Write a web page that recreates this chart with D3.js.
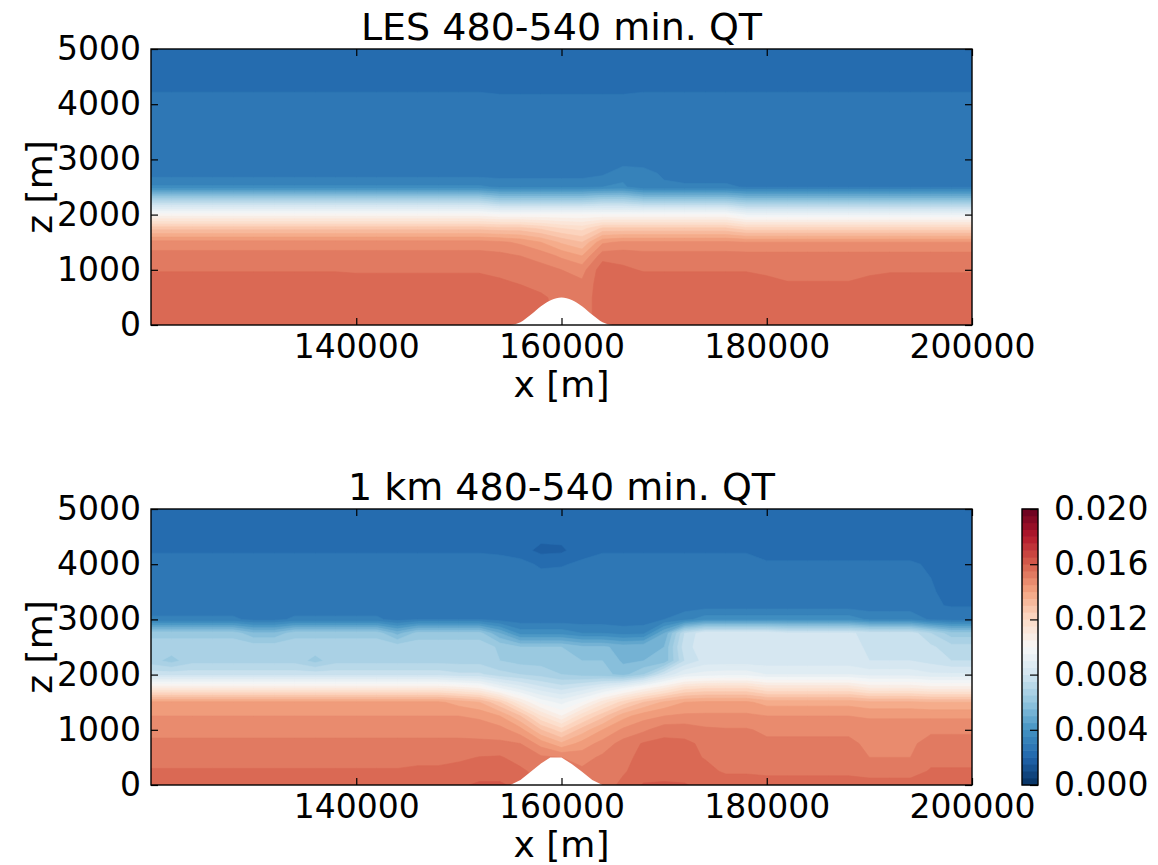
<!DOCTYPE html>
<html><head><meta charset="utf-8">
<script src="https://cdn.jsdelivr.net/npm/d3@7/dist/d3.min.js"></script>
<style>
html,body{margin:0;padding:0;background:#fff;}
svg text{font-family:"DejaVu Sans",sans-serif;fill:#000;}
</style></head>
<body>
<svg id="chart" width="1158" height="865"></svg>
<script>
// ---------------- DATA ----------------
// grid columns (x, m) and rows (z, m; listed top-down)
const xCols = [120000,122000,124000,126000,128000,130000,132000,134000,136000,138000,
               140000,142000,144000,146000,148000,150000,152000,154000,156000,158000,
               160000,162000,164000,166000,168000,170000,172000,174000,176000,178000,
               180000,182000,184000,186000,188000,190000,192000,194000,196000,198000,200000];
const zRows = [5000,4750,4500,4250,4000,3750,3500,3250,3000,2750,2500,2250,2000,1750,1500,1250,1000,750,500,250,0];

// QT values in g/kg (colorbar labels are kg/kg), one row per z level (top-down), one value per x column
const lesQT = [
[2.2,2.2,2.2,2.2,2.2,2.2,2.2,2.2,2.2,2.2, 2.2,2.2,2.2,2.2,2.2,2.2,2.2,2.2,2.2,2.2, 2.2,2.2,2.2,2.2,2.2,2.2,2.2,2.2,2.2,2.2, 2.2,2.2,2.2,2.2,2.2,2.2,2.2,2.2,2.2,2.2, 2.2],
[2.2,2.2,2.2,2.2,2.2,2.2,2.2,2.2,2.2,2.2, 2.2,2.2,2.2,2.2,2.2,2.2,2.2,2.2,2.2,2.2, 2.2,2.2,2.2,2.2,2.2,2.2,2.2,2.2,2.2,2.2, 2.2,2.2,2.2,2.2,2.2,2.2,2.2,2.2,2.2,2.2, 2.2],
[2.2,2.2,2.2,2.2,2.2,2.2,2.2,2.2,2.2,2.2, 2.2,2.2,2.2,2.2,2.2,2.2,2.2,2.2,2.2,2.2, 2.2,2.2,2.2,2.2,2.2,2.2,2.2,2.2,2.2,2.2, 2.2,2.2,2.2,2.2,2.2,2.2,2.2,2.2,2.2,2.2, 2.2],
[2.47,2.47,2.47,2.47,2.47,2.47,2.47,2.47,2.47,2.47, 2.47,2.47,2.47,2.47,2.47,2.47,2.47,2.42,2.42,2.42, 2.42,2.42,2.42,2.42,2.47,2.47,2.47,2.47,2.47,2.47, 2.47,2.47,2.47,2.47,2.47,2.47,2.47,2.47,2.47,2.47, 2.47],
[2.7,2.7,2.7,2.7,2.7,2.7,2.7,2.7,2.7,2.7, 2.7,2.7,2.7,2.7,2.7,2.7,2.7,2.7,2.7,2.7, 2.7,2.7,2.7,2.7,2.7,2.7,2.7,2.7,2.7,2.7, 2.7,2.7,2.7,2.7,2.7,2.7,2.7,2.7,2.7,2.7, 2.7],
[2.7,2.7,2.7,2.7,2.7,2.7,2.7,2.7,2.7,2.7, 2.7,2.7,2.7,2.7,2.7,2.7,2.7,2.7,2.7,2.7, 2.7,2.7,2.7,2.7,2.7,2.7,2.7,2.7,2.7,2.7, 2.7,2.7,2.7,2.7,2.7,2.7,2.7,2.7,2.7,2.7, 2.7],
[2.7,2.7,2.7,2.7,2.7,2.7,2.7,2.7,2.7,2.7, 2.7,2.7,2.7,2.7,2.7,2.7,2.7,2.7,2.7,2.7, 2.7,2.7,2.7,2.7,2.7,2.7,2.7,2.7,2.7,2.7, 2.7,2.7,2.7,2.7,2.7,2.7,2.7,2.7,2.7,2.7, 2.7],
[2.7,2.7,2.7,2.7,2.7,2.7,2.7,2.7,2.7,2.7, 2.7,2.7,2.7,2.7,2.7,2.7,2.7,2.7,2.7,2.7, 2.7,2.7,2.7,2.7,2.7,2.7,2.7,2.7,2.7,2.7, 2.7,2.7,2.7,2.7,2.7,2.7,2.7,2.7,2.7,2.7, 2.7],
[2.7,2.7,2.7,2.7,2.7,2.7,2.7,2.7,2.7,2.7, 2.7,2.7,2.7,2.7,2.7,2.7,2.7,2.7,2.7,2.7, 2.7,2.7,2.7,2.7,2.7,2.7,2.7,2.7,2.7,2.7, 2.7,2.7,2.7,2.7,2.7,2.7,2.7,2.7,2.7,2.7, 2.7],
[2.75,2.75,2.75,2.75,2.75,2.75,2.75,2.75,2.75,2.75, 2.75,2.75,2.75,2.75,2.75,2.75,2.75,2.75,2.75,2.75, 2.75,2.75,2.9,3.3,3.2,2.9,2.72,2.72,2.72,2.72, 2.72,2.72,2.72,2.72,2.72,2.72,2.72,2.72,2.72,2.72, 2.72],
[3.6,3.6,3.6,3.6,3.6,3.6,3.6,3.6,3.6,3.6, 3.6,3.6,3.6,3.6,3.6,3.6,3.6,3.4,3.4,3.4, 3.4,3.4,3.5,3.6,3.1,3.1,3.1,3.1,3.1,2.95, 2.95,2.95,2.95,2.95,2.95,2.95,2.95,2.95,2.95,2.95, 2.95],
[7.0,7.0,7.0,7.0,7.0,7.0,7.0,7.0,7.0,7.0, 7.0,7.0,7.0,7.0,7.0,7.0,7.0,6.5,6.5,6.5, 6.5,6.5,6.8,6.8,6.4,6.4,6.4,6.4,6.4,6.0, 6.0,6.0,6.0,6.0,6.0,6.0,6.0,6.0,6.0,6.0, 6.0],
[10.2,10.2,10.2,10.2,10.2,10.2,10.2,10.2,10.2,10.2, 10.2,10.2,10.2,10.2,10.2,10.2,10.2,10.0,10.0,10.0, 10.0,10.0,10.0,10.0,10.0,10.0,10.0,10.0,10.0,9.4, 9.4,9.4,9.4,9.4,9.4,9.4,9.4,9.4,9.4,9.4, 9.4],
[12.8,12.8,12.8,12.8,12.8,12.8,12.8,12.8,12.8,12.8, 12.8,12.8,12.8,12.8,12.8,12.8,12.8,12.7,12.7,12.4, 12.0,11.8,12.6,12.6,12.6,12.6,12.6,12.6,12.6,12.2, 12.2,12.2,12.2,12.2,12.2,12.2,12.2,12.2,12.2,12.2, 12.2],
[14.7,14.7,14.7,14.7,14.7,14.7,14.7,14.7,14.7,14.7, 14.7,14.7,14.7,14.7,14.7,14.7,14.7,14.6,14.4,14.0, 13.4,13.0,14.4,14.6,14.6,14.6,14.6,14.6,14.6,14.5, 14.5,14.5,14.5,14.5,14.5,14.5,14.5,14.5,14.5,14.5, 14.5],
[15.2,15.2,15.2,15.2,15.2,15.2,15.2,15.2,15.2,15.2, 15.2,15.2,15.2,15.2,15.2,15.2,15.2,15.15,15.0,14.8, 14.4,14.0,15.3,15.3,15.2,15.2,15.2,15.2,15.2,15.2, 15.2,15.2,15.2,15.2,15.2,15.2,15.2,15.2,15.2,15.2, 15.2],
[15.45,15.45,15.45,15.45,15.45,15.45,15.45,15.45,15.45,15.45, 15.4,15.4,15.4,15.4,15.4,15.4,15.4,15.35,15.25,15.2, 15.0,14.8,15.8,15.6,15.45,15.45,15.45,15.45,15.45,15.45, 15.35,15.25,15.25,15.25,15.25,15.35,15.42,15.42,15.42,15.42, 15.42],
[15.8,15.8,15.8,15.8,15.8,15.8,15.8,15.8,15.8,15.8, 15.8,15.8,15.8,15.8,15.8,15.8,15.8,15.6,15.48,15.3, 15.2,15.1,15.8,15.8,15.8,15.8,15.8,15.8,15.8,15.8, 15.7,15.55,15.55,15.55,15.55,15.7,15.8,15.8,15.8,15.8, 15.8],
[15.8,15.8,15.8,15.8,15.8,15.8,15.8,15.8,15.8,15.8, 15.8,15.8,15.8,15.8,15.8,15.8,15.8,15.8,15.75,15.6, 15.3,15.2,15.8,15.8,15.8,15.8,15.8,15.8,15.8,15.8, 15.8,15.8,15.8,15.8,15.8,15.8,15.8,15.8,15.8,15.8, 15.8],
[15.8,15.8,15.8,15.8,15.8,15.8,15.8,15.8,15.8,15.8, 15.8,15.8,15.8,15.8,15.8,15.8,15.8,15.8,15.8,15.7, 15.3,15.2,15.8,15.8,15.8,15.8,15.8,15.8,15.8,15.8, 15.8,15.8,15.8,15.8,15.8,15.8,15.8,15.8,15.8,15.8, 15.8],
[15.8,15.8,15.8,15.8,15.8,15.8,15.8,15.8,15.8,15.8, 15.8,15.8,15.8,15.8,15.8,15.8,15.8,15.8,15.8,15.7, 15.3,15.2,15.8,15.8,15.8,15.8,15.8,15.8,15.8,15.8, 15.8,15.8,15.8,15.8,15.8,15.8,15.8,15.8,15.8,15.8, 15.8]
];

const kmQT = [
[2.2,2.2,2.2,2.2,2.2,2.2,2.2,2.2,2.2,2.2, 2.2,2.2,2.2,2.2,2.2,2.2,2.2,2.2,2.2,2.2, 2.2,2.2,2.2,2.2,2.2,2.2,2.2,2.2,2.2,2.2, 2.2,2.2,2.2,2.2,2.2,2.2,2.2,2.2,2.2,2.2, 2.2],
[2.2,2.2,2.2,2.2,2.2,2.2,2.2,2.2,2.2,2.2, 2.2,2.2,2.2,2.2,2.2,2.2,2.2,2.2,2.2,2.2, 2.2,2.2,2.2,2.2,2.2,2.2,2.2,2.2,2.2,2.2, 2.2,2.2,2.2,2.2,2.2,2.2,2.2,2.2,2.2,2.2, 2.2],
[2.2,2.2,2.2,2.2,2.2,2.2,2.2,2.2,2.2,2.2, 2.2,2.2,2.2,2.2,2.2,2.2,2.2,2.2,2.2,2.15, 2.15,2.2,2.2,2.2,2.2,2.2,2.2,2.2,2.2,2.2, 2.2,2.2,2.2,2.2,2.2,2.2,2.2,2.2,2.2,2.2, 2.2],
[2.45,2.45,2.45,2.45,2.45,2.45,2.45,2.45,2.45,2.45, 2.45,2.45,2.45,2.45,2.45,2.45,2.45,2.4,2.2,1.85, 1.9,2.3,2.45,2.45,2.45,2.45,2.45,2.45,2.45,2.45, 2.35,2.35,2.35,2.35,2.35,2.35,2.35,2.35,2.3,2.3, 2.3],
[2.7,2.7,2.7,2.7,2.7,2.7,2.7,2.7,2.7,2.7, 2.7,2.7,2.7,2.7,2.7,2.7,2.7,2.7,2.7,2.4, 2.45,2.6,2.7,2.7,2.7,2.7,2.7,2.7,2.7,2.7, 2.55,2.55,2.55,2.55,2.55,2.55,2.55,2.55,2.45,2.4, 2.4],
[2.7,2.7,2.7,2.7,2.7,2.7,2.7,2.7,2.7,2.7, 2.7,2.7,2.7,2.7,2.7,2.7,2.7,2.7,2.7,2.7, 2.7,2.7,2.7,2.7,2.7,2.7,2.7,2.7,2.7,2.7, 2.7,2.7,2.7,2.7,2.7,2.7,2.7,2.7,2.5,2.42, 2.42],
[2.7,2.7,2.7,2.7,2.7,2.7,2.7,2.7,2.7,2.7, 2.7,2.7,2.7,2.7,2.7,2.7,2.7,2.7,2.7,2.7, 2.7,2.7,2.7,2.7,2.7,2.7,2.7,2.7,2.7,2.7, 2.7,2.7,2.7,2.7,2.7,2.7,2.7,2.7,2.52,2.44, 2.44],
[2.7,2.7,2.7,2.7,2.7,2.7,2.7,2.7,2.7,2.7, 2.7,2.7,2.7,2.7,2.7,2.7,2.7,2.7,2.7,2.7, 2.7,2.7,2.7,2.7,2.7,2.7,2.75,2.75,2.75,2.75, 2.75,2.75,2.75,2.75,2.75,2.7,2.7,2.7,2.55,2.47, 2.47],
[3.1,3.1,3.1,3.1,3.1,2.85,2.85,3.1,3.1,3.1, 3.1,3.1,2.8,3.0,3.0,3.0,3.0,2.8,2.7,2.7, 2.7,2.7,2.7,2.7,2.7,3.0,3.3,3.8,3.8,3.8, 3.8,3.8,3.8,3.8,3.8,3.4,3.4,3.4,2.9,2.8, 2.8],
[6.3,6.3,6.3,6.3,6.3,5.6,5.6,6.3,6.3,6.3, 6.3,6.3,5.3,6.2,6.2,6.2,6.2,5.0,3.8,3.8, 3.8,3.5,3.5,3.3,3.4,5.0,7.5,8.4,8.4,8.4, 8.4,8.1,8.1,8.1,8.1,7.8,7.8,7.8,7.0,6.2, 6.2],
[6.8,6.8,6.8,6.8,6.8,6.8,6.8,6.8,6.8,6.8, 6.8,6.8,6.8,6.8,6.8,6.8,6.8,6.4,6.0,6.0, 6.0,5.6,5.6,5.3,5.4,5.5,7.8,8.3,8.3,8.3, 8.3,8.2,8.2,8.2,8.2,7.9,7.9,7.9,7.6,7.2, 7.2],
[6.7,6.3,6.8,6.8,6.8,6.8,6.8,6.8,6.3,6.8, 6.8,6.8,6.8,6.8,6.8,6.8,6.8,6.5,6.3,6.3, 6.3,6.0,6.0,5.4,5.5,5.6,7.5,8.2,8.2,8.2, 8.2,8.2,8.2,8.2,8.2,8.0,8.0,8.0,7.8,7.5, 7.5],
[7.8,7.8,7.8,7.8,7.8,7.8,7.8,7.8,7.8,7.8, 7.8,7.8,7.8,7.8,7.8,7.6,7.6,7.2,7.0,6.8, 6.5,6.3,6.2,5.8,6.5,8.0,9.0,9.2,9.3,9.3, 9.0,9.0,9.0,9.0,9.0,8.8,8.8,8.8,8.6,8.6, 8.6],
[11.0,11.0,11.0,11.0,11.0,11.0,11.0,11.0,11.0,11.0, 11.0,11.0,11.0,11.0,11.0,10.8,10.5,9.5,8.8,8.2, 7.8,8.2,8.8,9.5,10.3,11.0,11.8,12.0,12.0,12.0, 11.5,11.5,11.5,11.5,11.5,11.0,11.0,11.0,10.8,10.8, 10.8],
[14.1,14.1,14.1,14.1,14.1,14.1,14.1,14.1,14.1,14.1, 14.1,14.1,14.1,14.1,14.1,13.8,13.5,12.5,11.0,9.8, 9.3,10.0,11.2,12.2,13.0,13.6,14.0,14.1,14.1,14.1, 13.8,13.8,13.8,13.8,13.8,13.6,13.6,13.6,13.5,13.5, 13.5],
[14.5,14.5,14.5,14.5,14.5,14.5,14.5,14.5,14.5,14.5, 14.5,14.5,14.5,14.5,14.5,14.5,14.4,14.0,13.0,11.5, 10.5,11.8,12.8,13.8,14.3,14.5,14.6,14.6,14.6,14.6, 14.5,14.5,14.5,14.5,14.5,14.45,14.45,14.45,14.4,14.4, 14.4],
[14.85,14.85,14.85,14.85,14.85,14.85,14.85,14.85,14.85,14.85, 14.85,14.85,14.85,14.85,14.85,14.85,14.8,14.7,14.2,13.0, 12.2,13.2,14.0,14.6,14.9,15.3,15.3,15.1,15.05,15.05, 14.9,14.9,14.9,14.9,14.9,14.7,14.7,14.7,14.9,14.9, 14.9],
[15.1,15.1,15.1,15.1,15.1,15.1,15.1,15.1,15.1,15.1, 15.1,15.1,15.1,15.1,15.1,15.1,15.1,15.1,15.0,14.3, 13.6,14.2,14.7,15.2,15.55,15.65,15.6,15.4,15.2,15.2, 15.1,15.1,15.1,15.1,15.1,14.9,14.9,14.9,15.2,15.2, 15.2],
[15.3,15.3,15.3,15.3,15.3,15.3,15.3,15.3,15.3,15.3, 15.3,15.3,15.3,15.35,15.35,15.4,15.52,15.55,15.3,15.1, 15.0,14.8,15.1,15.4,15.6,15.7,15.6,15.48,15.3,15.3, 15.3,15.3,15.3,15.3,15.3,15.0,15.0,15.0,15.35,15.35, 15.35],
[15.55,15.55,15.55,15.55,15.55,15.55,15.55,15.55,15.55,15.55, 15.55,15.55,15.55,15.6,15.6,15.7,15.7,15.7,15.6,15.3, 15.2,15.1,15.2,15.45,15.7,15.7,15.7,15.6,15.45,15.45, 15.4,15.4,15.4,15.4,15.4,15.3,15.3,15.3,15.55,15.55, 15.55],
[15.8,15.8,15.8,15.8,15.8,15.8,15.8,15.8,15.8,15.8, 15.8,15.8,15.8,15.8,15.8,15.9,16.1,16.1,15.8,15.52, 15.52,15.52,15.3,15.6,16.05,16.1,16.05,15.8,15.7,15.7, 15.7,15.7,15.7,15.7,15.7,15.7,15.7,15.7,15.8,15.8, 15.8]
];

// terrain (white hill) profiles
const lesHillX = [155000,155500,156000,157000,158000,159000,160000,161000,162000,163000,164000,164500,165000];
const lesHillZ = [0,15,50,185,340,455,500,455,340,185,50,15,0];
const kmHillX  = [155000,156000,157000,158000,158900,160000,161000,162000,163000,164000];
const kmHillZ  = [0,90,240,390,500,500,380,240,90,0];

const titles = ["LES 480-540 min. QT", "1 km 480-540 min. QT"];
const xTicks = [140000,160000,180000,200000];
const zTicks = [0,1000,2000,3000,4000,5000];
const cbTicks = [0,4,8,12,16,20];               // g/kg
const cbTickLabels = ["0.000","0.004","0.008","0.012","0.016","0.020"];
const rdbuStops = [0,2,4,6,8,10,12,14,16,18,20]; // g/kg
const rdbuColors = ["#053061","#2166ac","#4393c3","#92c5de","#d1e5f0","#f7f7f7","#fddbc7","#f4a582","#d6604d","#b2182b","#67001f"];

// ---------------- DRAWING ----------------
[lesQT, kmQT].forEach((d,k)=>d.forEach((r,i)=>{ if(r.length!==xCols.length) console.error("row length",k,i,r.length); }));

const svg = d3.select("#chart");
const plotLeft = 151, plotRight = 972;
const levelStep = 0.5;
const levels = d3.range(0, 20, levelStep);
const cmap = d3.scaleLinear().domain(rdbuStops).range(rdbuColors).interpolate(d3.interpolateRgb);
const bandColor = v => cmap(v + levelStep/2);

const panels = [
  {title: titles[0], data: lesQT, hx: lesHillX, hz: lesHillZ, curve: d3.curveMonotoneX, top: 49, bottom: 325},
  {title: titles[1], data: kmQT,  hx: kmHillX,  hz: kmHillZ,  curve: d3.curveLinear,    top: 509, bottom: 785}
];

const tickFont = 33, labelFont = 36, titleFont = 38;

panels.forEach((p, pi) => {
  const xs = d3.scaleLinear().domain([120000, 200000]).range([plotLeft, plotRight]);
  const ys = d3.scaleLinear().domain([0, 5000]).range([p.bottom, p.top]);
  const g = svg.append("g");

  const clipId = "clip" + pi;
  svg.append("clipPath").attr("id", clipId).append("rect")
     .attr("x", plotLeft).attr("y", p.top).attr("width", plotRight - plotLeft).attr("height", p.bottom - p.top);

  const nx = xCols.length, nz = zRows.length;
  const zAsc = zRows.slice().reverse();
  const grid = p.data.slice().reverse().flat();
  const dx = xCols[1] - xCols[0], dz = zAsc[1] - zAsc[0];
  const proj = d3.geoTransform({
    point(x, y) { this.stream.point(xs(xCols[0] + (x - 0.5) * dx), ys(zAsc[0] + (y - 0.5) * dz)); }
  });
  const path = d3.geoPath(proj);
  const contours = d3.contours().size([nx, nz]).thresholds(levels)(grid);

  const field = g.append("g").attr("clip-path", `url(#${clipId})`);
  field.selectAll("path.band").data(contours).join("path")
    .attr("class", "band")
    .attr("d", path)
    .attr("fill", d => bandColor(d.value))
    .attr("stroke", d => bandColor(d.value))
    .attr("stroke-width", 0.6);

  // terrain
  const hill = p.hx.map((x, i) => [x, p.hz[i]]);
  field.append("path").datum(hill)
    .attr("d", d3.area().x(d => xs(d[0])).y0(ys(0) + 2).y1(d => ys(d[1])).curve(p.curve))
    .attr("fill", "#fff");

  // axes (inward ticks on all sides)
  const fmt = d3.format("d");
  const ax = (gen, tx, ty) => {
    const a = g.append("g").attr("transform", `translate(${tx},${ty})`).call(gen);
    a.select(".domain").remove();
    a.selectAll(".tick line").attr("stroke", "#000").attr("stroke-width", 1.2);
    a.selectAll(".tick text").attr("font-size", tickFont).attr("font-family", "DejaVu Sans").attr("fill", "#000");
    return a;
  };
  ax(d3.axisBottom(xs).tickValues(xTicks).tickFormat(fmt).tickSize(-7).tickPadding(10), 0, p.bottom);
  ax(d3.axisTop(xs).tickValues(xTicks).tickFormat("").tickSize(-7), 0, p.top);
  ax(d3.axisLeft(ys).tickValues(zTicks).tickFormat(fmt).tickSize(-7).tickPadding(10), plotLeft, 0);
  ax(d3.axisRight(ys).tickValues(zTicks).tickFormat("").tickSize(-7), plotRight, 0);

  g.append("rect").attr("x", plotLeft).attr("y", p.top)
    .attr("width", plotRight - plotLeft).attr("height", p.bottom - p.top)
    .attr("fill", "none").attr("stroke", "#000").attr("stroke-width", 1.4);

  // labels
  g.append("text").attr("x", (plotLeft + plotRight) / 2).attr("y", p.top - 9)
    .attr("text-anchor", "middle").attr("font-size", titleFont).text(p.title);
  g.append("text").attr("x", (plotLeft + plotRight) / 2).attr("y", p.bottom + 72)
    .attr("text-anchor", "middle").attr("font-size", labelFont).text("x [m]");
  g.append("text")
    .attr("transform", `translate(52,${(p.top + p.bottom) / 2}) rotate(-90)`)
    .attr("text-anchor", "middle").attr("font-size", labelFont).text("z [m]");
});

// colorbar
const cb = svg.append("g");
const cbX = 1022, cbW = 16, cbTop = 509, cbBottom = 785;
const cbScale = d3.scaleLinear().domain([0, 20]).range([cbBottom, cbTop]);
cb.selectAll("rect.cbband").data(levels).join("rect")
  .attr("class", "cbband")
  .attr("x", cbX).attr("width", cbW)
  .attr("y", d => cbScale(d + levelStep) - 0.3)
  .attr("height", d => cbScale(d) - cbScale(d + levelStep) + 0.6)
  .attr("fill", d => bandColor(d));
const cba = cb.append("g").attr("transform", `translate(${cbX + cbW},0)`)
  .call(d3.axisRight(cbScale).tickValues(cbTicks).tickFormat((d, i) => cbTickLabels[i]).tickSize(-8).tickPadding(16));
cba.select(".domain").remove();
cba.selectAll(".tick line").attr("stroke", "#000").attr("stroke-width", 1.2);
cba.selectAll(".tick text").attr("font-size", tickFont).attr("font-family", "DejaVu Sans").attr("fill", "#000");
cb.append("rect").attr("x", cbX).attr("y", cbTop).attr("width", cbW).attr("height", cbBottom - cbTop)
  .attr("fill", "none").attr("stroke", "#000").attr("stroke-width", 1.4);
</script>
</body></html>
